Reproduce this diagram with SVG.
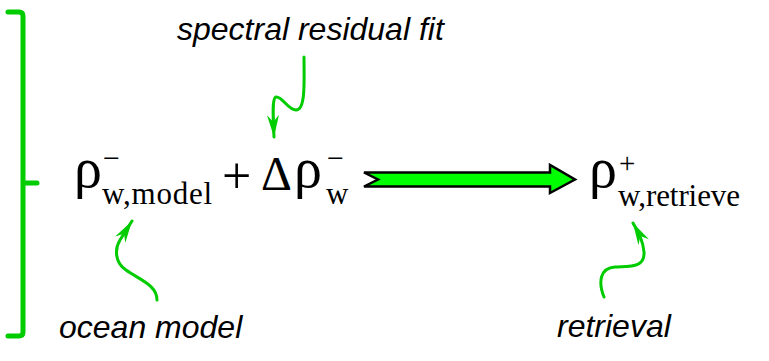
<svg xmlns="http://www.w3.org/2000/svg" width="769" height="361" viewBox="0 0 769 361">
<style>
.f{font-family:"Liberation Serif","Times New Roman",serif;fill:#000}
.lbl{font-family:"Liberation Sans",Arial,sans-serif;font-style:italic;font-size:32px;fill:#000}
.cur{fill:none;stroke:#00cc00;stroke-width:3;stroke-linecap:round;marker-end:url(#ah)}
</style>
<defs>
<marker id="ah" markerUnits="userSpaceOnUse" viewBox="-22 -7 24 14" refX="0" refY="0" markerWidth="24" markerHeight="14" orient="auto">
<path d="M0,0 L-22,-6 L-15,0 L-22,6 Z" fill="#00cc00"/>
</marker>
</defs>
<rect width="769" height="361" fill="#fff"/>
<g id="bracket">
<path d="M8,12 L19,12 Q23,12 23,16 L23,332 Q23,336 19,336 L8,336 M23,183 L37,183" fill="none" stroke="#00cc00" stroke-width="5" stroke-linecap="round"/>
</g>
<g id="model-term">
<text class="f" x="74" y="187" font-size="56">ρ</text>
<text class="f" x="103" y="168" font-size="30">−</text>
<text class="f" x="102" y="204" font-size="31" textLength="110" lengthAdjust="spacing">w,model</text>
</g>
<g id="plus"><text class="f" x="222" y="193" font-size="52">+</text></g>
<g id="delta-term">
<text class="f" x="261" y="190" font-size="48">Δ</text>
<text class="f" x="294" y="187" font-size="56">ρ</text>
<text class="f" x="327" y="168" font-size="30">−</text>
<text class="f" x="326" y="204" font-size="31">w</text>
</g>
<g id="retrieve-term">
<text class="f" x="589" y="187" font-size="56">ρ</text>
<text class="f" x="619" y="173" font-size="29">+</text>
<text class="f" x="618" y="206" font-size="31" textLength="122" lengthAdjust="spacing">w,retrieve</text>
</g>
<g id="main-arrow">
<polygon points="364,172.5 550,172.5 550,165 575,179.5 550,193 550,186.5 364,186.5 378,179.5" fill="#00ff00" stroke="#000" stroke-width="2.5" stroke-linejoin="miter"/>
</g>
<g id="label-spectral"><text class="lbl" x="177" y="40">spectral residual fit</text></g>
<g id="label-ocean"><text class="lbl" x="59" y="338">ocean model</text></g>
<g id="label-retrieval"><text class="lbl" x="557" y="337">retrieval</text></g>
<g id="connectors">
<path class="cur" d="M304,57 C304,80 306,110 296,110 C288,110 282,96 276,97 C272,98 273,115 274,137"/>
<path class="cur" d="M157,300 C157,285 140,280 126,270 C114,262 115,248 120,240 L132,221"/>
<path class="cur" d="M604,297 C598,282 600,268 615,267 C630,266 645,268 644,252 C643,240 638,232 633,223"/>
</g>
</svg>
